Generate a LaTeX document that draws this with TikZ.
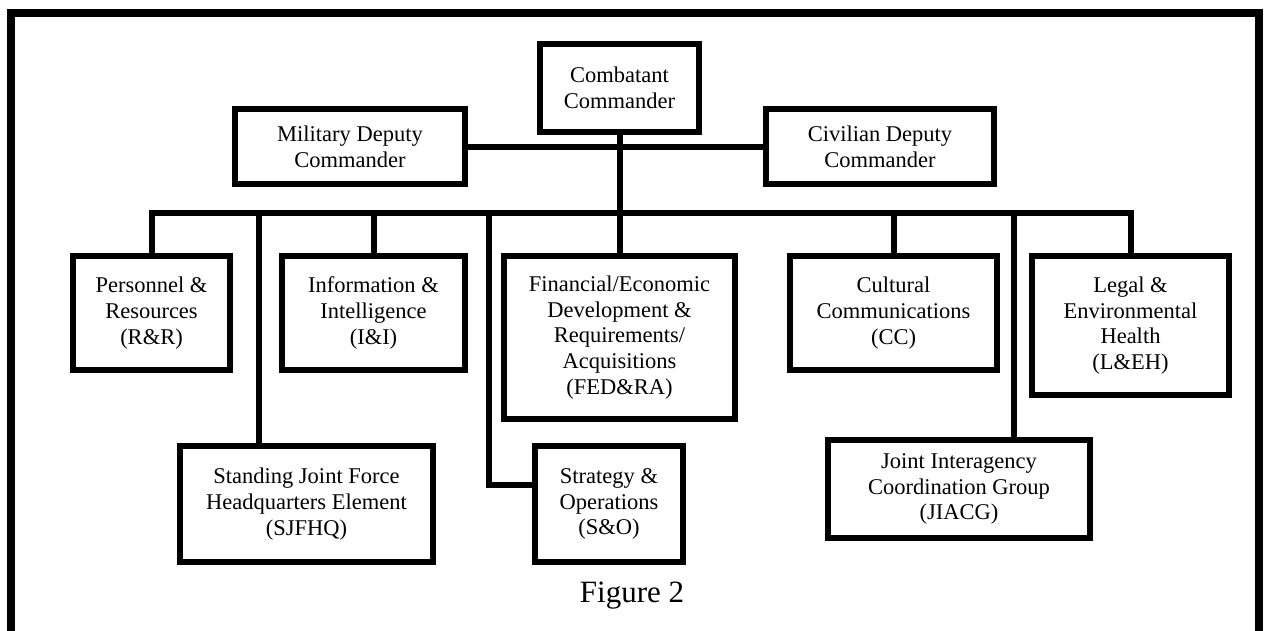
\documentclass[tikz,border=0pt]{standalone}
\usepackage{fontspec}
\setmainfont{Liberation Serif}
\usetikzlibrary{positioning}
\tikzset{
  unit/.style={draw, line width=6pt, align=center, inner sep=2pt, font=\fontsize{22.5}{25.8}\selectfont},
  link/.style={line width=6pt},
}

\begin{document}
\begin{tikzpicture}[x=1pt,y=-1pt]
        \useasboundingbox (0,0) rectangle (1264,630);
        \draw[line width=8pt] (11,636) -- (11,12.5) -- (1259,12.5) -- (1259,636);
        % command level
        \node[unit, minimum width=159pt, minimum height=88pt] (cmd) at (619.5,88) {Combatant\\Commander};
        \node[unit, minimum width=230pt, minimum height=75pt] (mil) at (350,146.5) {Military Deputy\\Commander};
        \node[unit, minimum width=228pt, minimum height=75pt] (civ) at (880,146.5) {Civilian Deputy\\Commander};
        % directorates
        \node[unit, minimum width=157pt, minimum height=114pt] (pr) at (151.5,313) {Personnel \&\\Resources\\(R\&R)};
        \node[unit, minimum width=183pt, minimum height=114pt] (ii) at (373.5,313) {Information \&\\Intelligence\\(I\&I)};
        \node[unit, minimum width=231pt, minimum height=163pt] (fed) at (619.5,337.5) {Financial/Economic\\Development \&\\Requirements/\\Acquisitions\\(FED\&RA)};
        \node[unit, minimum width=207pt, minimum height=114pt] (cc) at (893.5,313) {Cultural\\Communications\\(CC)};
        \node[unit, minimum width=197pt, minimum height=139pt] (leh) at (1130.5,325.5) {Legal \&\\Environmental\\Health\\(L\&EH)};
        \node[unit, minimum width=253pt, minimum height=116pt] (sj) at (306.5,504) {Standing Joint Force\\Headquarters Element\\(SJFHQ)};
        \node[unit, minimum width=148pt, minimum height=116pt] (so) at (609,504) {Strategy \&\\Operations\\(S\&O)};
        \node[unit, minimum width=262pt, minimum height=98pt] (jia) at (959,489) {Joint Interagency\\Coordination Group\\(JIACG)};
        \node[font=\fontsize{31}{36}\selectfont] (cap) at (632,596) {Figure 2};
        % connectors
        \coordinate (bus) at (619.5,213);
        \coordinate (sjtap) at (259,213);
        \coordinate (sotap) at (489,213);
        \coordinate (jitap) at (1014,213);
        \draw[link] (cmd) -- (fed);
        \draw[link] (mil) -- (civ);
        \draw[link] (pr) |- (bus) -| (leh);
        \draw[link] (bus) -| (ii);
        \draw[link] (bus) -| (cc);
        \draw[link] (sjtap) -- (sjtap |- sj.north);
        \draw[link] (sotap) |- ([yshift=19pt]so.west);
        \draw[link] (jitap) -- (jitap |- jia.north);
\end{tikzpicture}
\end{document}
